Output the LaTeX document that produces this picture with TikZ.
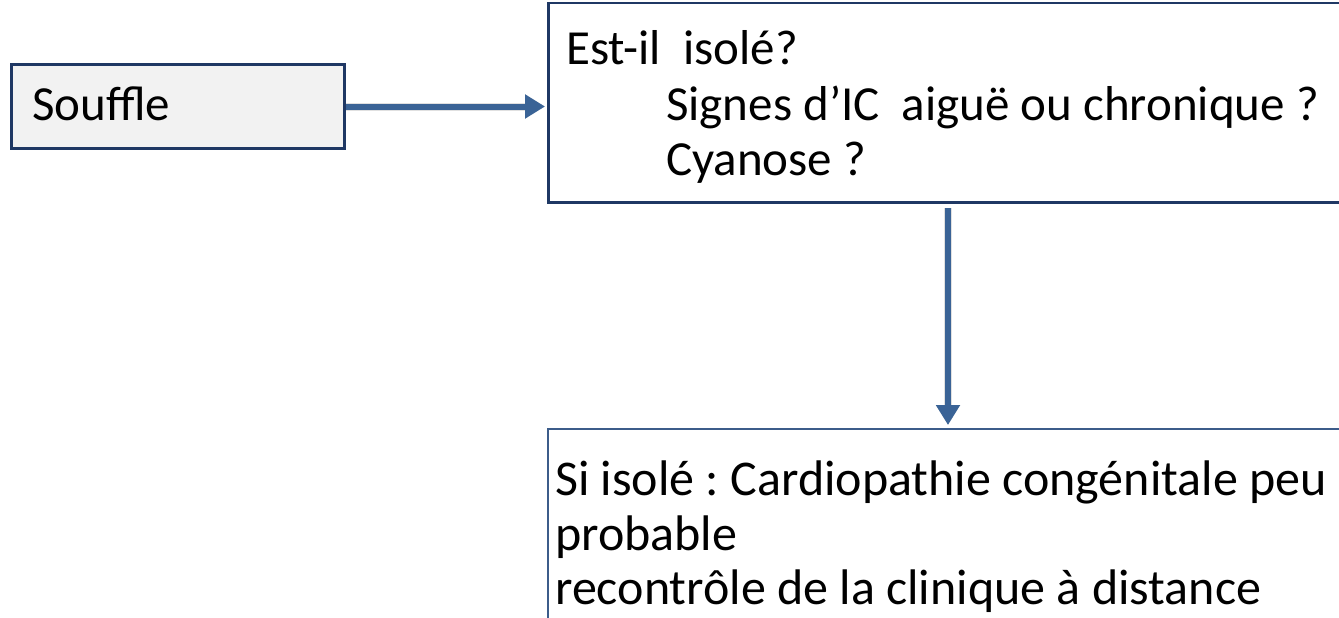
\documentclass[tikz,border=0pt]{standalone}
\usepackage{fontspec}
\setmainfont{Carlito}
\usetikzlibrary{arrows.meta}
\frenchspacing
\definecolor{navy}{RGB}{31,56,100}
\definecolor{arrowblue}{RGB}{58,99,150}
\definecolor{boxgray}{RGB}{242,242,242}
\definecolor{lightnavy}{RGB}{60,92,138}
\tikzset{
  lbl/.style={font=\fontsize{49}{54}\selectfont, inner sep=0pt, anchor=base west},
  lblb/.style={font=\fontsize{50}{54}\selectfont, inner sep=0pt, anchor=base west},
  conn/.style={draw=arrowblue, line width=6pt, -{Triangle[length=20pt,width=23pt]}},
  connshadow/.style={draw=black, opacity=0.12, line width=8pt, -{Triangle[length=20pt,width=23pt]}},
  frame/.style={inner sep=0pt, anchor=north west},
}
\begin{document}
\begin{tikzpicture}[x=1pt,y=-1pt]
\useasboundingbox (0,0) rectangle (1339,618);
\clip (0,0) rectangle (1339,618);
\node[frame, draw=navy, line width=3pt, fill=boxgray, minimum width=333pt, minimum height=84pt] (souffle) at (10,63) {};
\node[lbl] (tsouffle) at (32,121) {Souffle};
\node[frame, draw=navy, line width=2.5pt, minimum width=900pt, minimum height=199pt] (q) at (547,2) {};
\node[lbl] (q1) at (566,65) {Est-il\ \ isolé?};
\node[lbl] (q2) at (666,120) {Signes d’IC\ \ aiguë ou chronique ?};
\node[lbl] (q3) at (666,175) {Cyanose ?};
\node[frame, draw=lightnavy, line width=2pt, minimum width=900pt, minimum height=300pt] (a) at (547,428) {};
\node[lblb] (a1) at (555,495) {Si isolé : Cardiopathie congénitale peu};
\node[lblb] (a2) at (555,550) {probable};
\node[lblb] (a3) at (555,604) {recontrôle de la clinique à distance};
\coordinate (vtop) at (948,201);
\begin{scope}[xshift=2pt,yshift=-3pt]
\draw[connshadow, shorten >=2pt] (souffle.east) -- (souffle.east -| q.west);
\draw[connshadow, shorten <=7pt, shorten >=3pt] (vtop) -- (vtop |- a.north);
\end{scope}
\draw[conn, shorten >=2pt] (souffle.east) -- (souffle.east -| q.west);
\draw[conn, shorten <=7pt, shorten >=3pt] (vtop) -- (vtop |- a.north);
\end{tikzpicture}
\end{document}
